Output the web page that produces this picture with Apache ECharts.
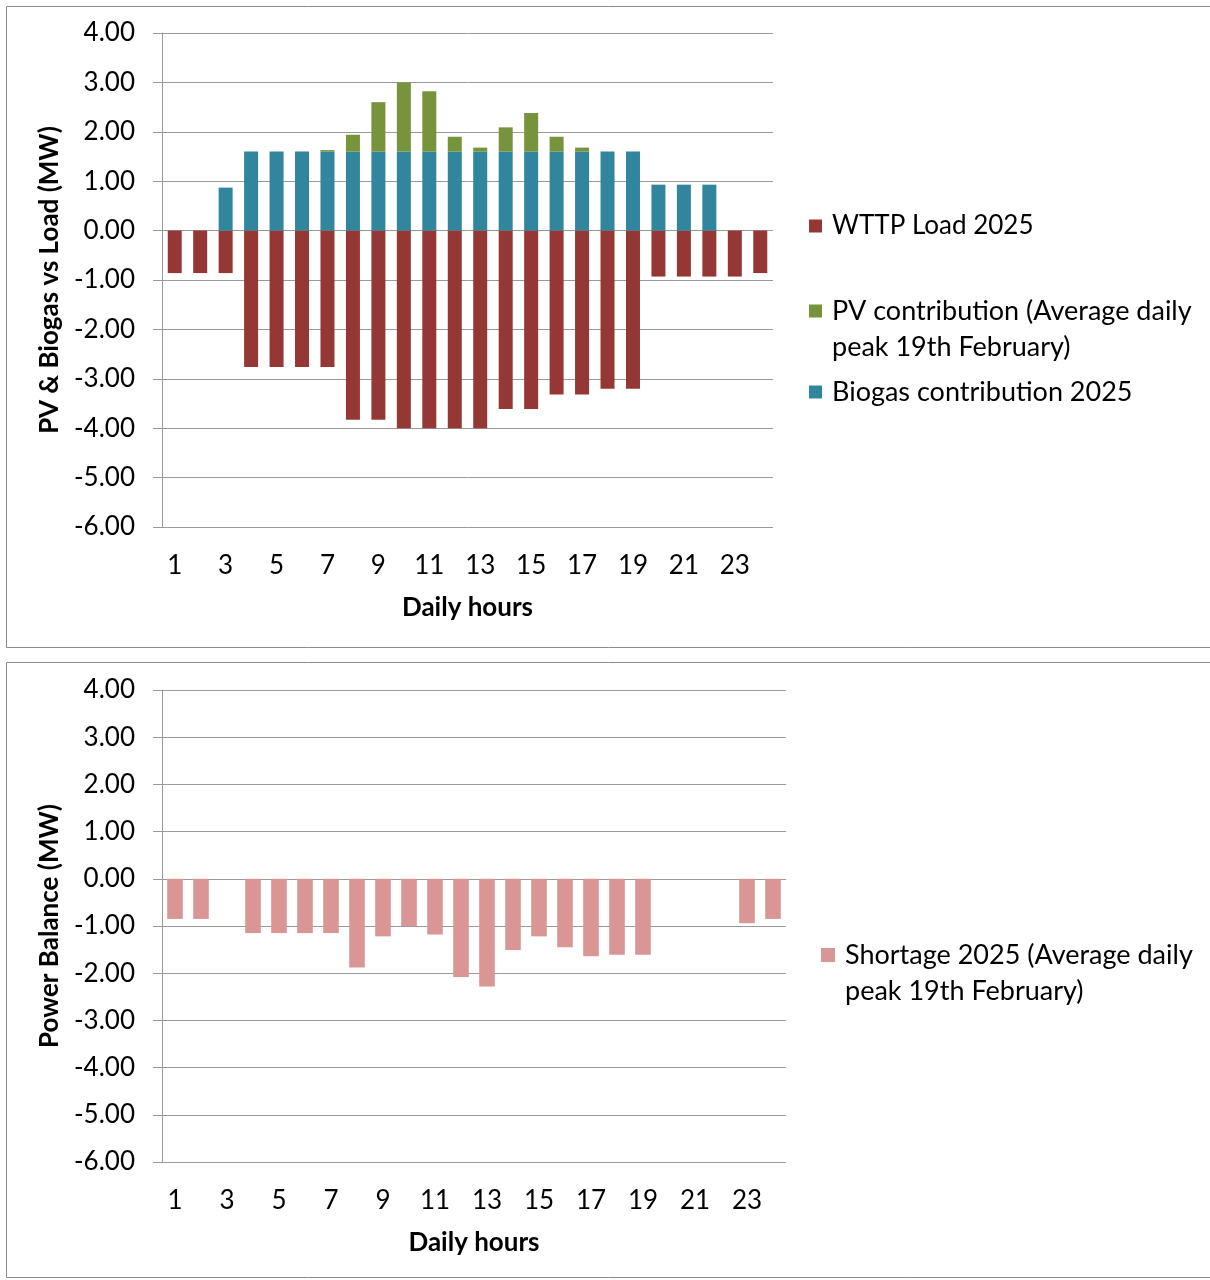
<!DOCTYPE html>
<html>
<head>
<meta charset="utf-8">
<script src="https://cdn.jsdelivr.net/npm/echarts@6/dist/echarts.min.js"></script>
<style>
  html, body { margin: 0; padding: 0; background: #fff; }
  #chart { width: 1210px; height: 1280px; }
</style>
</head>
<body>
<div id="chart"></div>
<script>
// Hourly profile, 19th February 2025
const hours = ['1','2','3','4','5','6','7','8','9','10','11','12','13','14','15','16','17','18','19','20','21','22','23','24'];

// WTTP load (MW, drawn below zero)
const loadMW = [-0.86, -0.86, -0.86, -2.76, -2.76, -2.76, -2.76, -3.83, -3.83, -4.00, -4.00, -4.00,
                -4.00, -3.61, -3.61, -3.32, -3.32, -3.20, -3.20, -0.93, -0.93, -0.93, -0.93, -0.86];

// Biogas contribution (MW)
const biogasMW = [0, 0, 0.87, 1.60, 1.60, 1.60, 1.60, 1.60, 1.60, 1.60, 1.60, 1.60,
                  1.60, 1.60, 1.60, 1.60, 1.60, 1.60, 1.60, 0.93, 0.93, 0.93, 0, 0];

// PV contribution on top of biogas (MW)
const pvMW = [0, 0, 0, 0, 0, 0, 0.03, 0.34, 1.00, 1.40, 1.22, 0.30,
              0.08, 0.49, 0.78, 0.30, 0.08, 0, 0, 0, 0, 0, 0, 0];

// Remaining shortage (MW)
const shortageMW = [-0.85, -0.85, 0, -1.15, -1.15, -1.15, -1.15, -1.88, -1.22, -1.00, -1.18, -2.08,
                    -2.28, -1.51, -1.22, -1.45, -1.64, -1.61, -1.61, 0, 0, 0, -0.94, -0.85];

const FONT = 'Lato';
const GRID_COLOR = '#9a9a9a';

const chart = echarts.init(document.getElementById('chart'), null, { renderer: 'canvas' });

function valueAxis(gridIndex, title) {
  return {
    type: 'value',
    gridIndex: gridIndex,
    min: -6,
    max: 4,
    interval: 1,
    name: title,
    nameLocation: 'middle',
    nameGap: 88,
    nameTextStyle: { fontFamily: FONT, fontSize: 26, fontWeight: 'bold', color: '#000' },
    axisLine: { show: true, lineStyle: { color: GRID_COLOR, width: 1 } },
    axisTick: { show: true, length: 9, lineStyle: { color: GRID_COLOR, width: 1 } },
    axisLabel: {
      margin: 27,
      fontFamily: FONT,
      fontSize: 26,
      color: '#000',
      formatter: v => v.toFixed(2)
    },
    splitLine: { show: true, lineStyle: { color: GRID_COLOR, width: 1 } }
  };
}

function hourAxis(gridIndex) {
  return {
    type: 'category',
    gridIndex: gridIndex,
    data: hours,
    name: 'Daily hours',
    nameLocation: 'middle',
    nameGap: 68,
    nameTextStyle: { fontFamily: FONT, fontSize: 26, fontWeight: 'bold', color: '#000' },
    axisLine: { show: false },
    axisTick: { show: false },
    axisLabel: {
      interval: 1,
      margin: 26,
      fontFamily: FONT,
      fontSize: 26,
      color: '#000'
    },
    splitLine: { show: false }
  };
}

// Two-line legend entries get a leading blank line so that the swatch
// sits beside the first line of text.
function legendBox(name, left, top, size, twoLines, fontSize) {
  return {
    data: [name],
    left: left,
    top: top,
    orient: 'vertical',
    padding: 0,
    selectedMode: false,
    icon: 'rect',
    itemWidth: size,
    itemHeight: size,
    formatter: twoLines ? (n => '\n' + n) : (n => n),
    textStyle: {
      fontFamily: FONT,
      fontSize: fontSize,
      color: '#000',
      lineHeight: twoLines ? 36 : 33,
      padding: [0, 0, 0, 5]
    }
  };
}

const PV_NAME = 'PV contribution (Average daily\npeak 19th February)';
const SHORT_NAME = 'Shortage 2025 (Average daily\npeak 19th February)';

const option = {
  animation: false,
  backgroundColor: '#fff',
  graphic: [
    { type: 'rect', shape: { x: 6.5, y: 6.5, width: 1215, height: 641 },
      style: { fill: 'none', stroke: '#8c8c8c', lineWidth: 1 }, silent: true },
    { type: 'rect', shape: { x: 6.5, y: 662.5, width: 1215, height: 615 },
      style: { fill: 'none', stroke: '#8c8c8c', lineWidth: 1 }, silent: true }
  ],
  legend: [
    legendBox('WTTP Load 2025', 809, 209.5, 13, false, 26),
    legendBox(PV_NAME, 809, 257, 13, true, 27),
    legendBox('Biogas contribution 2025', 809, 375.5, 13, false, 27),
    legendBox(SHORT_NAME, 821, 901, 14, true, 27)
  ],
  grid: [
    { left: 162, top: 33, width: 611, height: 494, containLabel: false },
    { left: 162, top: 690, width: 624, height: 472, containLabel: false }
  ],
  xAxis: [hourAxis(0), hourAxis(1)],
  yAxis: [
    valueAxis(0, 'PV & Biogas vs Load (MW)'),
    valueAxis(1, 'Power Balance (MW)')
  ],
  series: [
    {
      name: 'WTTP Load 2025',
      type: 'bar',
      xAxisIndex: 0, yAxisIndex: 0,
      stack: 'hour',
      barCategoryGap: '45%',
      itemStyle: { color: '#953735' },
      data: loadMW
    },
    {
      name: 'Biogas contribution 2025',
      type: 'bar',
      xAxisIndex: 0, yAxisIndex: 0,
      stack: 'hour',
      barCategoryGap: '45%',
      itemStyle: { color: '#31859C' },
      data: biogasMW
    },
    {
      name: PV_NAME,
      type: 'bar',
      xAxisIndex: 0, yAxisIndex: 0,
      stack: 'hour',
      barCategoryGap: '45%',
      itemStyle: { color: '#77933C' },
      data: pvMW
    },
    {
      name: SHORT_NAME,
      type: 'bar',
      xAxisIndex: 1, yAxisIndex: 1,
      barCategoryGap: '40%',
      itemStyle: { color: '#D99694' },
      data: shortageMW
    }
  ]
};

chart.setOption(option);
</script>
</body>
</html>
